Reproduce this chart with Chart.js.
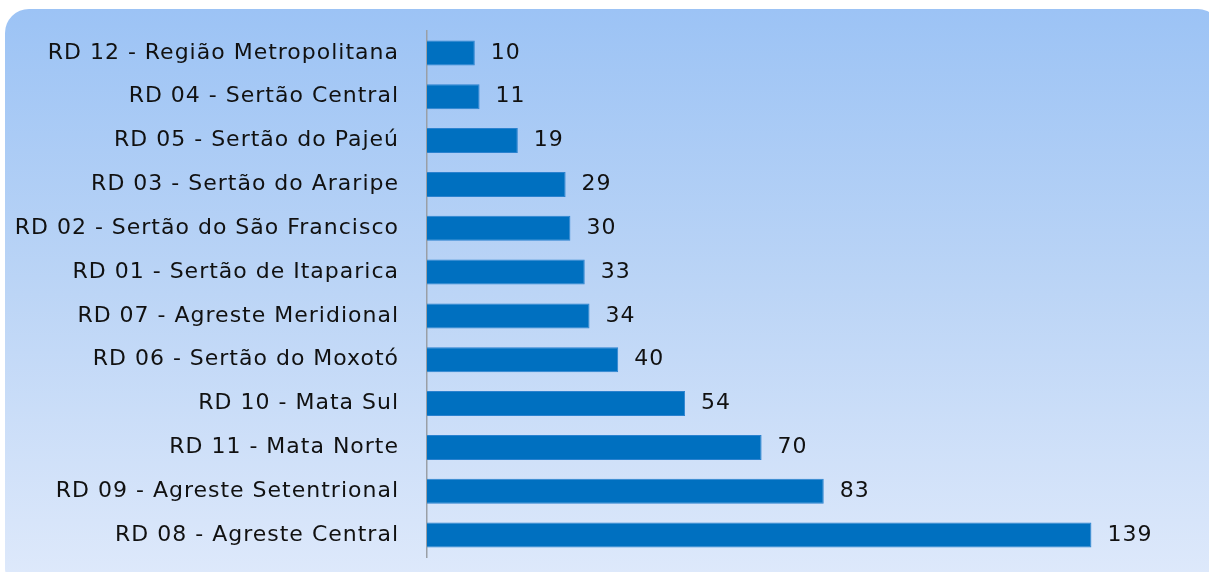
<!DOCTYPE html>
<html>
<head>
<meta charset="utf-8">
<script src="https://cdn.jsdelivr.net/npm/chart.js@4"></script>
<style>
	html, body { margin: 0; padding: 0; background: #fff; overflow: hidden; }
	#wrap { position: relative; width: 1209px; height: 572px; }
	#panel {
		position: absolute; left: 5px; top: 9px; width: 1215px; height: 570px;
		border-radius: 24px 22px 10px 10px;
		background: linear-gradient(to bottom, #9cc3f5 0%, #bcd5f6 50%, #dee9fb 100%);
	}
	#chart { position: absolute; left: 0; top: 0; }
</style>
</head>
<body>
<div id="wrap">
	<div id="panel"></div>
	<canvas id="chart" width="1209" height="572"></canvas>
</div>
<script>
const regions = [
	'RD 12 - Região Metropolitana',
	'RD 04 - Sertão Central',
	'RD 05 - Sertão do Pajeú',
	'RD 03 - Sertão do Araripe',
	'RD 02 - Sertão do São Francisco',
	'RD 01 - Sertão de Itaparica',
	'RD 07 - Agreste Meridional',
	'RD 06 - Sertão do Moxotó',
	'RD 10 - Mata Sul',
	'RD 11 - Mata Norte',
	'RD 09 - Agreste Setentrional',
	'RD 08 - Agreste Central'
];
const counts = [10, 11, 19, 29, 30, 33, 34, 40, 54, 70, 83, 139];

// шрифт с разрядкой, как в оригинале
const spacing = {
	id: 'spacing',
	beforeLayout(chart) { chart.ctx.letterSpacing = '1px'; },
	beforeDraw(chart) { chart.ctx.letterSpacing = '1px'; }
};

// подписи значений справа от столбцов
const valueLabels = {
	id: 'valueLabels',
	afterDatasetsDraw(chart) {
		const ctx = chart.ctx;
		const meta = chart.getDatasetMeta(0);
		ctx.save();
		ctx.font = '22px "DejaVu Sans"';
		ctx.letterSpacing = '1px';
		ctx.fillStyle = '#111';
		ctx.textAlign = 'left';
		ctx.textBaseline = 'middle';
		meta.data.forEach(function(bar, i) {
			ctx.fillText(String(counts[i]), bar.x + 16, bar.y);
		});
		ctx.restore();
	}
};

const ctx = document.getElementById('chart').getContext('2d');
const chart = new Chart(ctx, {
	type: 'bar',
	data: {
		labels: regions,
		datasets: [
			{
				data: counts,
				backgroundColor: '#0070c0',
				borderColor: '#2b82cf',
				borderWidth: 1,
				categoryPercentage: 1,
				barPercentage: 0.57
			}
		]
	},
	options: {
		indexAxis: 'y',
		responsive: false,
		animation: false,
		layout: { padding: { top: 31, bottom: 15, left: 0, right: 65 } },
		plugins: {
			legend: { display: false },
			tooltip: { enabled: false }
		},
		scales: {
			x: { display: false, min: 0, max: 150 },
			y: {
				afterFit: function(scale) {
					scale.width = 427;
					scale.paddingTop = 0;
					scale.paddingBottom = 0;
				},
				grid: { display: false },
				border: { display: true, color: '#9a9fa6', width: 1.5 },
				ticks: {
					padding: 20,
					color: '#111',
					font: { family: '"DejaVu Sans"', size: 22 }
				}
			}
		}
	},
	plugins: [spacing, valueLabels]
});
</script>
</body>
</html>
